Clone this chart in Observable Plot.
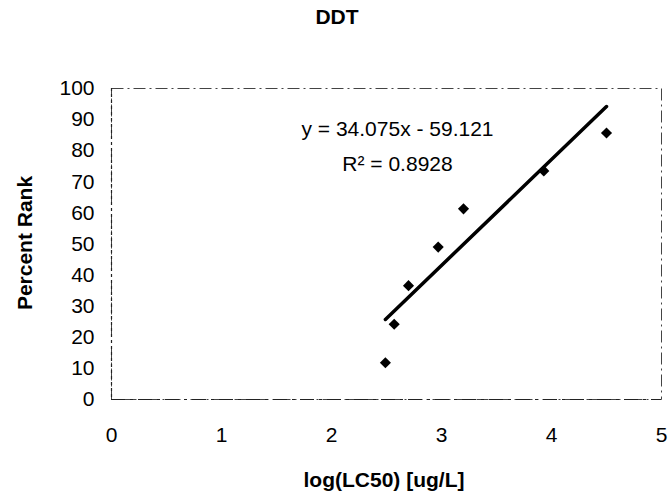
<!DOCTYPE html>
<html>
<head>
<meta charset="utf-8">
<script src="https://cdn.jsdelivr.net/npm/d3@7"></script>
<script src="https://cdn.jsdelivr.net/npm/@observablehq/plot@0.6"></script>
<style>
  body { margin: 0; background: #fff; }
  #chart { width: 671px; height: 497px; }
</style>
</head>
<body>
<div id="chart"></div>
<script>
// ---- data ----
const logLC50 = [2.49, 2.57, 2.70, 2.97, 3.20, 3.93, 4.50];
const percentRank = [11.8, 24.2, 36.6, 49.0, 61.3, 73.5, 85.7];
const fitSlope = 34.075;
const fitIntercept = -59.121;
const fitR2 = 0.8928;
const xTicks = [0, 1, 2, 3, 4, 5];
const yTicks = [0, 10, 20, 30, 40, 50, 60, 70, 80, 90, 100];
const titleText = "DDT";
const xLabel = "log(LC50) [ug/L]";
const yLabel = "Percent Rank";

const points = logLC50.map((x, i) => ({x, y: percentRank[i]}));
const xMin = d3.min(logLC50), xMax = d3.max(logLC50);
const fitLine = [xMin, xMax].map(x => ({x, y: fitSlope * x + fitIntercept}));
const eqText = `y = ${fitSlope.toFixed(3)}x - ${Math.abs(fitIntercept).toFixed(3)}`;
const r2Text = `R\u00B2 = ${fitR2}`;

const font = "'Liberation Sans', Arial, sans-serif";

const plot = Plot.plot({
  width: 671,
  height: 497,
  marginLeft: 111,
  marginRight: 10,
  marginTop: 88,
  marginBottom: 98,
  style: {fontFamily: font, fontSize: "21px", color: "#000", background: "#fff"},
  x: {domain: [0, 5], ticks: xTicks, label: null},
  y: {domain: [0, 100], ticks: yTicks, label: null},
  marks: [
    Plot.frame({stroke: "#444", strokeWidth: 1, strokeDasharray: "12 4 2 4"}),
    Plot.ruleY([0], {stroke: "#222", strokeWidth: 1.2, strokeDasharray: "14 5 3 5"}),
    Plot.ruleX([0], {stroke: "#222", strokeWidth: 1.2, strokeDasharray: "3 3"}),
    Plot.axisX({ticks: xTicks, tickFormat: d3.format("d"), tickSize: 0, tickPadding: 28, fontSize: 21, label: null}),
    Plot.axisY({ticks: yTicks, tickFormat: d3.format("d"), tickSize: 0, tickPadding: 17, fontSize: 21, label: null}),
    Plot.line(fitLine, {x: "x", y: "y", stroke: "#000", strokeWidth: 3.5}),
    Plot.dot(points, {x: "x", y: "y", symbol: "diamond2", r: 5, fill: "#000", stroke: "none"}),
    Plot.text([eqText], {frameAnchor: "top", dx: 11, dy: 33, fontSize: 21, fill: "#000"}),
    Plot.text([r2Text], {frameAnchor: "top", dx: 11, dy: 68, fontSize: 21, fill: "#000"})
  ]
});

const svg = d3.select(plot);
svg.append("text")
  .attr("x", 337).attr("y", 24)
  .attr("text-anchor", "middle")
  .attr("font-family", font).attr("font-size", 21).attr("font-weight", "bold")
  .text(titleText);
svg.append("text")
  .attr("x", 384).attr("y", 487)
  .attr("text-anchor", "middle")
  .attr("font-family", font).attr("font-size", 21).attr("font-weight", "bold")
  .text(xLabel);
svg.append("text")
  .attr("transform", "translate(32,243) rotate(-90)")
  .attr("text-anchor", "middle")
  .attr("font-family", font).attr("font-size", 21).attr("font-weight", "bold")
  .text(yLabel);

document.getElementById("chart").appendChild(plot);
</script>
</body>
</html>
